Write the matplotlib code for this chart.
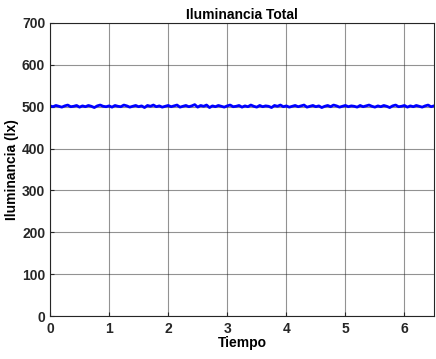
import numpy as np
import matplotlib.pyplot as plt

plt.rcParams['font.family'] = ['Liberation Sans', 'DejaVu Sans']

t_step = 0.05
lux = [502, 500, 503, 501, 499, 502, 504, 500, 501, 503, 499, 502, 500, 503, 501,
       498, 502, 504, 501, 500, 502, 499, 503, 501, 500, 504, 502, 499, 501, 503,
       500, 502, 498, 503, 501, 504, 500, 502, 499, 501, 503, 500, 502, 504, 499,
       501, 503, 500, 502, 505, 499, 503, 501, 504, 498, 502, 500, 503, 501, 499,
       502, 504, 500, 501, 503, 499, 502, 500, 504, 501, 499, 503, 500, 502, 501,
       498, 503, 501, 504, 500, 502, 499, 501, 503, 500, 502, 504, 499, 501, 503,
       500, 502, 498, 501, 503, 500, 504, 502, 499, 501, 503, 500, 502, 501, 499,
       503, 500, 502, 504, 501, 499, 502, 500, 503, 501, 498, 502, 504, 500, 501,
       503, 499, 502, 500, 503, 501, 499, 502, 504, 500, 502]
t = np.arange(len(lux)) * t_step

fig = plt.figure(figsize=(4.36, 3.59), dpi=100)
ax = fig.add_axes([50/436, 1 - 316/359, 384/436, 293/359])
ax.plot(t, lux, color='b', lw=2.0)
ax.set_xlim(0, 6.5)
ax.set_ylim(0, 700)
ax.set_xticks(range(0, 7))
ax.set_yticks(range(0, 701, 100))
ax.grid(True, color='#262626', lw=0.8, alpha=0.5)
ax.tick_params(direction='in', length=3, labelsize=10, colors='#262626',
               labelcolor='#262626', width=0.8)
ax.tick_params(axis='x', pad=4)
for lbl in ax.get_xticklabels() + ax.get_yticklabels():
    lbl.set_fontweight('bold')
for s in ax.spines.values():
    s.set_color('#262626')
    s.set_linewidth(0.8)
ax.set_title('Iluminancia Total', fontsize=10, fontweight='bold', pad=3)
ax.set_xlabel('Tiempo', fontsize=10, fontweight='bold', labelpad=0)
ax.set_ylabel('Iluminancia (lx)', fontsize=10, fontweight='bold', labelpad=2)

fig.savefig('out.png', dpi=100)
